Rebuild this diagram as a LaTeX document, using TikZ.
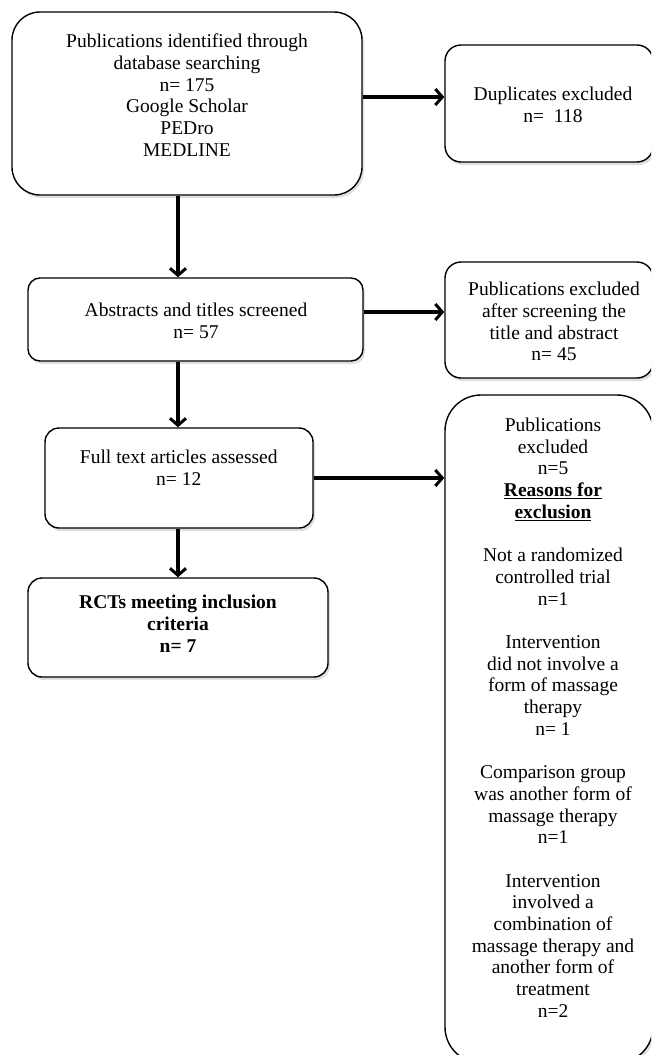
\documentclass[tikz,border=0pt]{standalone}
\usepackage{fontspec}
\setmainfont{Liberation Serif}
\usetikzlibrary{arrows.meta,shadows}
\begin{document}
\begin{tikzpicture}[x=1pt,y=-1pt,
  box/.style={draw=black, line width=1.4pt, fill=white, inner sep=0pt,
    drop shadow={shadow xshift=2pt, shadow yshift=-3pt, opacity=0.25, fill=gray}},
  txt/.style={align=center, inner sep=0pt, anchor=north, font=\fontsize{19.5}{21.7}\selectfont},
  arr/.style={line width=3.5pt, -{Straight Barb[length=7pt,width=16pt,line width=3pt]}}]
\useasboundingbox (0,0) rectangle (651,1055);
\clip (0,0) rectangle (651,1055);
\coordinate (colx) at (178,0);
% boxes
\node[box, rounded corners=28pt, minimum width=350, minimum height=183] (b1) at (187,103.5) {};
\node[box, rounded corners=16pt, minimum width=208, minimum height=117] (dup) at (549,103.5) {};
\node[box, rounded corners=12pt, minimum width=335, minimum height=83] (b2) at (195.5,319.5) {};
\node[box, rounded corners=16pt, minimum width=208, minimum height=116] (ex2) at (549,320) {};
\node[box, rounded corners=14pt, minimum width=268, minimum height=100] (b3) at (179,478) {};
\node[box, rounded corners=36pt, minimum width=208, minimum height=668] (ex3) at (549,729) {};
\node[box, rounded corners=14pt, minimum width=300, minimum height=99] (b4) at (178,627.5) {};
% texts (north = first baseline - 13)
\node[txt] (t1) at (187,33.7) {Publications identified through\\database searching\\n= 175\\Google Scholar\\PEDro\\MEDLINE};
\node[txt] (t2) at (553,87) {Duplicates excluded\\n=~~118};
\node[txt] (t3) at (196,303) {Abstracts and titles screened\\n= 57};
\node[txt] (t4) at (554,282) {Publications excluded\\after screening the\\title and abstract\\n= 45};
\node[txt] (t5) at (178.8,450) {Full text articles assessed\\n= 12};
\node[txt] (t6) at (178,595) {\textbf{RCTs meeting inclusion}\\\textbf{criteria}\\\textbf{n= 7}};
\node[txt] (t7) at (553,417.7) {Publications\\excluded\\n=5\\\underline{\textbf{Reasons for}}\\\underline{\textbf{exclusion}}\\[21.7pt]
Not a randomized\\controlled trial\\n=1\\[21.7pt]
Intervention\\did not involve a\\form of massage\\therapy\\n= 1\\[21.7pt]
Comparison group\\was another form of\\massage therapy\\n=1\\[21.7pt]
Intervention\\involved a\\combination of\\massage therapy and\\another form of\\treatment\\n=2};
% connectors
\coordinate (r1) at (0,97);
\coordinate (r2) at (0,312);
\coordinate (r3) at (0,478);
\draw[arr] (b1.east |- r1) -- (dup.west |- r1);
\draw[arr] (b2.east |- r2) -- (ex2.west |- r2);
\draw[arr] (b3.east |- r3) -- (ex3.west |- r3);
\draw[arr] (b1.south -| colx) -- (b2.north -| colx);
\draw[arr] (b2.south -| colx) -- (b3.north -| colx);
\draw[arr] (b3.south -| colx) -- (b4.north -| colx);
\end{tikzpicture}
\end{document}
